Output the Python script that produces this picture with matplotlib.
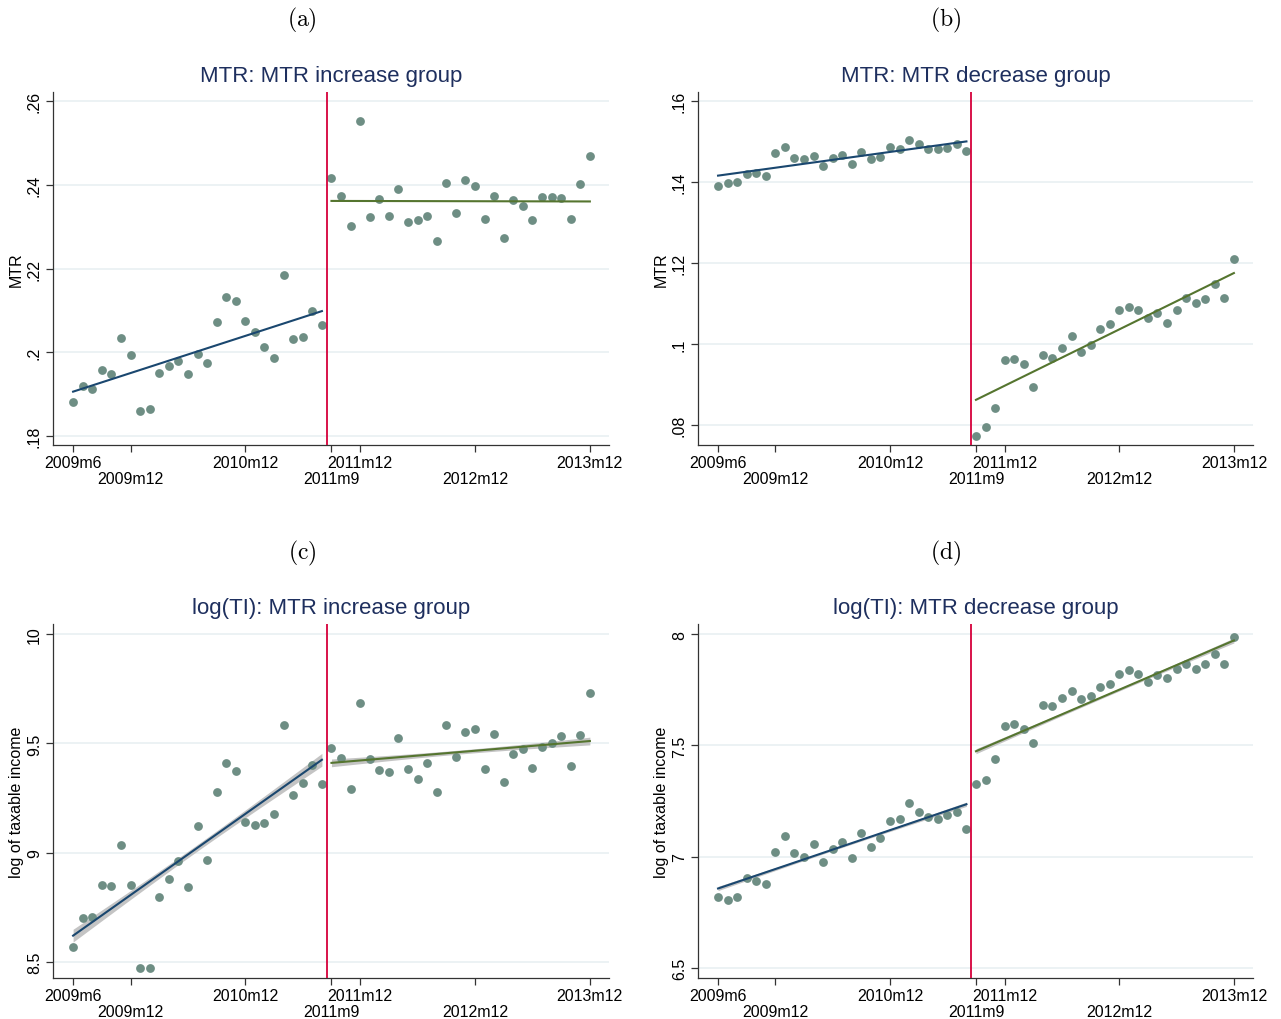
import numpy as np
import matplotlib.pyplot as plt

plt.rcParams['font.family'] = ['Liberation Sans', 'DejaVu Sans']
plt.rcParams['mathtext.fontset'] = 'cm'

# monthly bins, 2009m6 .. 2013m12
month_labels = ["%dm%d" % (2009 + (5 + i) // 12, (5 + i) % 12 + 1) for i in range(55)]
months = np.arange(len(month_labels))
reform_after = '2011m8'   # red line sits between 2011m8 and 2011m9
row1_ticks = ['2009m6', '2010m12', '2011m12', '2013m12']
row2_ticks = ['2009m12', '2011m9', '2012m12']

# (a) MTR, increase group
mtr_inc_pre = [0.1882, 0.1920, 0.1912, 0.1957, 0.1948, 0.2034, 0.1994, 0.1859, 0.1863,
               0.1950, 0.1967, 0.1978, 0.1947, 0.1996, 0.1975, 0.2072, 0.2133, 0.2122,
               0.2075, 0.2049, 0.2013, 0.1987, 0.2185, 0.2032, 0.2036, 0.2098, 0.2066]
mtr_inc_post = [0.2417, 0.2374, 0.2302, 0.2552, 0.2322, 0.2366, 0.2325, 0.2391, 0.2310,
                0.2317, 0.2325, 0.2265, 0.2404, 0.2332, 0.2412, 0.2398, 0.2319, 0.2374,
                0.2272, 0.2363, 0.2350, 0.2316, 0.2371, 0.2372, 0.2368, 0.2318, 0.2401, 0.2470]
# (b) MTR, decrease group
mtr_dec_pre = [0.1392, 0.1399, 0.1401, 0.1421, 0.1422, 0.1415, 0.1473, 0.1488, 0.1459,
               0.1458, 0.1464, 0.1439, 0.1459, 0.1467, 0.1445, 0.1475, 0.1457, 0.1463,
               0.1488, 0.1482, 0.1504, 0.1495, 0.1481, 0.1481, 0.1485, 0.1494, 0.1477]
mtr_dec_post = [0.0774, 0.0795, 0.0842, 0.0961, 0.0963, 0.0952, 0.0894, 0.0974, 0.0966,
                0.0991, 0.1021, 0.0980, 0.0997, 0.1037, 0.1051, 0.1084, 0.1093, 0.1085,
                0.1064, 0.1077, 0.1052, 0.1085, 0.1113, 0.1101, 0.1111, 0.1149, 0.1115, 0.1210]
# (c) log(TI), increase group
lti_inc_pre = [8.569, 8.699, 8.706, 8.851, 8.845, 9.033, 8.850, 8.471, 8.472,
               8.798, 8.880, 8.961, 8.844, 9.122, 8.964, 9.279, 9.410, 9.372,
               9.142, 9.128, 9.134, 9.177, 9.583, 9.265, 9.320, 9.403, 9.316]
lti_inc_post = [9.478, 9.435, 9.293, 9.685, 9.430, 9.380, 9.371, 9.526, 9.383,
                9.339, 9.410, 9.279, 9.583, 9.436, 9.551, 9.568, 9.384, 9.542,
                9.323, 9.453, 9.473, 9.389, 9.485, 9.504, 9.533, 9.398, 9.539, 9.730]
# (d) log(TI), decrease group
lti_dec_pre = [6.819, 6.807, 6.818, 6.906, 6.893, 6.878, 7.023, 7.092, 7.017,
               7.000, 7.059, 6.975, 7.035, 7.068, 6.993, 7.107, 7.045, 7.084,
               7.159, 7.170, 7.243, 7.203, 7.177, 7.171, 7.188, 7.203, 7.126]
lti_dec_post = [7.326, 7.345, 7.441, 7.586, 7.597, 7.573, 7.513, 7.684, 7.679,
                7.714, 7.745, 7.709, 7.723, 7.762, 7.775, 7.823, 7.840, 7.823,
                7.787, 7.817, 7.802, 7.844, 7.865, 7.846, 7.865, 7.910, 7.865, 7.987]

panels = [
    dict(tag='(a)', title='MTR: MTR increase group', ylabel='MTR', pre=mtr_inc_pre,
         post=mtr_inc_post, yticks=[0.18, 0.20, 0.22, 0.24, 0.26],
         ylabs=['.18', '.2', '.22', '.24', '.26'], ylim=(0.1778, 0.2622), ci=False),
    dict(tag='(b)', title='MTR: MTR decrease group', ylabel='MTR', pre=mtr_dec_pre,
         post=mtr_dec_post, yticks=[0.08, 0.10, 0.12, 0.14, 0.16],
         ylabs=['.08', '.1', '.12', '.14', '.16'], ylim=(0.0751, 0.1623), ci=False),
    dict(tag='(c)', title='log(TI): MTR increase group', ylabel='log of taxable income',
         pre=lti_inc_pre, post=lti_inc_post, yticks=[8.5, 9, 9.5, 10],
         ylabs=['8.5', '9', '9.5', '10'], ylim=(8.425, 10.047), ci=True),
    dict(tag='(d)', title='log(TI): MTR decrease group', ylabel='log of taxable income',
         pre=lti_dec_pre, post=lti_dec_post, yticks=[6.5, 7, 7.5, 8],
         ylabs=['6.5', '7', '7.5', '8'], ylim=(6.455, 8.046), ci=True),
]

W, H = 1281, 1020
# axes boxes in pixels: left, top, right, bottom
boxes = [(53, 93, 609, 446), (698, 93, 1253, 446), (53, 625, 609, 979), (698, 625, 1253, 979)]
tag_xy = [(302, 20), (946, 20), (302, 553), (946, 553)]

NAVY = '#1a476f'
GREEN = '#55752f'
TEAL = '#6e8e84'
RED = '#d5003a'
TITLE = '#1e2f5e'
GRID = '#e7eff1'
# the fit bands come from the underlying micro data, far tighter than a fit on bin means
BAND_SCALE = 0.22


def lfit(ax, x, y, color, ci):
    x = np.asarray(x, float)
    y = np.asarray(y, float)
    b, a = np.polyfit(x, y, 1)
    xs = np.linspace(x[0], x[-1], 60)
    yh = a + b * xs
    if ci:
        n = len(x)
        s = np.sqrt(np.sum((y - (a + b * x)) ** 2) / (n - 2))
        se = s * np.sqrt(1.0 / n + (xs - x.mean()) ** 2 / np.sum((x - x.mean()) ** 2))
        hw = 2.06 * se * BAND_SCALE
        ax.fill_between(xs, yh - hw, yh + hw, color='#c4c4c4', lw=0, zorder=2)
    ax.plot(xs, yh, color=color, lw=1.5, zorder=4)


fig = plt.figure(figsize=(W / 100, H / 100), dpi=100)
cut = months[month_labels.index(reform_after)] + 0.5

for p, (l, t, r, b), (tx, ty) in zip(panels, boxes, tag_xy):
    ax = fig.add_axes([l / W, 1 - b / H, (r - l) / W, (b - t) / H])
    n_pre = len(p['pre'])
    x_pre = months[:n_pre]
    x_post = months[n_pre:n_pre + len(p['post'])]
    ax.scatter(x_pre, p['pre'], s=40, color=TEAL, lw=0, zorder=3)
    ax.scatter(x_post, p['post'], s=40, color=TEAL, lw=0, zorder=3)
    lfit(ax, x_pre, p['pre'], NAVY, p['ci'])
    lfit(ax, x_post, p['post'], GREEN, p['ci'])
    ax.axvline(cut, color=RED, lw=1.3, zorder=5)

    ax.set_xlim(-2.1, 56.0)
    ax.set_ylim(*p['ylim'])
    ax.set_xticks([month_labels.index(s) for s in row1_ticks])
    ax.set_xticklabels(row1_ticks, fontsize=11.5)
    ax.set_xticks([month_labels.index(s) for s in row2_ticks], minor=True)
    ax.set_xticklabels(row2_ticks, minor=True, fontsize=11.5)
    ax.set_yticks(p['yticks'])
    ax.set_yticklabels(p['ylabs'], fontsize=11.5, rotation=90, va='center')
    ax.tick_params(axis='both', which='both', direction='out', length=5, width=0.9,
                   color='#333333', pad=3)
    ax.tick_params(axis='x', which='major', pad=2)
    ax.tick_params(axis='x', which='minor', pad=13.5)
    ax.yaxis.grid(True, color=GRID, lw=1.1)
    ax.set_axisbelow(True)
    for side in ('top', 'right'):
        ax.spines[side].set_visible(False)
    for side in ('left', 'bottom'):
        ax.spines[side].set_color('#333333')
        ax.spines[side].set_linewidth(0.9)
    ax.set_ylabel(p['ylabel'], fontsize=11.5, labelpad=2)
    ax.set_title(p['title'], fontsize=16, color=TITLE, pad=8)
    fig.text(tx / W, 1 - ty / H, r'$\mathrm{' + p['tag'] + '}$', fontsize=17,
             ha='center', va='center')

fig.savefig('out.png', dpi=100, facecolor='white')
